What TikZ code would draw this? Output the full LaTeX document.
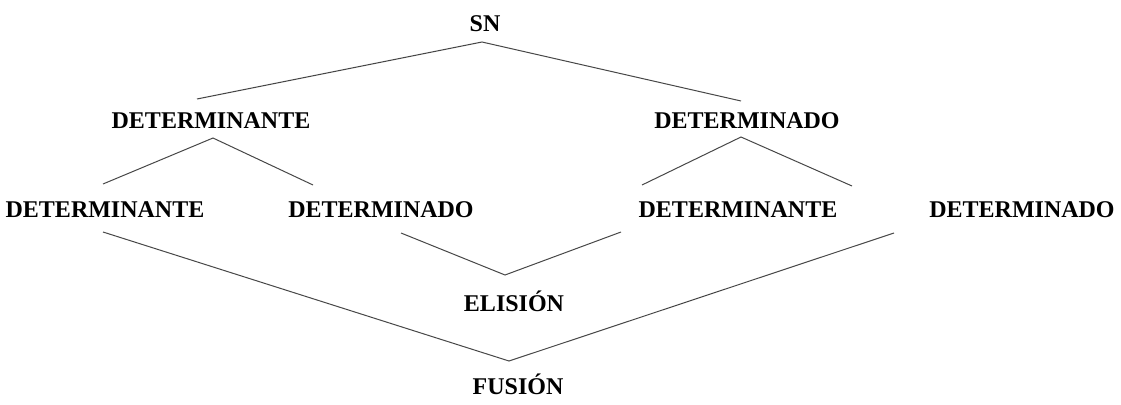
\documentclass[tikz,border=0pt]{standalone}
\usepackage{fontspec}
\setmainfont{Liberation Serif}
\begin{document}
\begin{tikzpicture}[x=1pt,y=-1pt,
  lbl/.style={anchor=base,inner sep=0pt,font=\fontsize{24}{27}\selectfont\bfseries},
  conn/.style={draw=black!72,line width=1pt}]
\useasboundingbox[fill=white] (0,0) rectangle (1121,404);
% nodes
\node[lbl] (sn)   at (485,32)  {SN};
\node[lbl] (dte1) at (211,128) {DETERMINANTE};
\node[lbl] (ddo1) at (747,128) {DETERMINADO};
\node[lbl] (dte2) at (105,217) {DETERMINANTE};
\node[lbl] (ddo2) at (381,217) {DETERMINADO};
\node[lbl] (dte3) at (738,217) {DETERMINANTE};
\node[lbl] (ddo3) at (1022,217) {DETERMINADO};
\node[lbl] (eli)  at (514,311) {ELISIÓN};
\node[lbl] (fus)  at (518,394) {FUSIÓN};
% connector end points
\coordinate (snB)   at (482,42);
\coordinate (dte1T) at (197,99);
\coordinate (ddo1T) at (741,101);
\coordinate (dte1B) at (213,138);
\coordinate (dte2T) at (103,184);
\coordinate (ddo2T) at (313,185);
\coordinate (ddo1B) at (741,137);
\coordinate (dte3T) at (642,185);
\coordinate (ddo3T) at (852,186);
\coordinate (ddo2B) at (401,233);
\coordinate (eliT)  at (505,275);
\coordinate (dte3B) at (621,232);
\coordinate (dte2B) at (103,232);
\coordinate (fusT)  at (509,361);
\coordinate (ddo3B) at (894,233);
% connectors
\draw[conn] (dte1T) -- (snB) -- (ddo1T);
\draw[conn] (dte2T) -- (dte1B) -- (ddo2T);
\draw[conn] (dte3T) -- (ddo1B) -- (ddo3T);
\draw[conn] (ddo2B) -- (eliT) -- (dte3B);
\draw[conn] (dte2B) -- (fusT) -- (ddo3B);
\end{tikzpicture}
\end{document}
